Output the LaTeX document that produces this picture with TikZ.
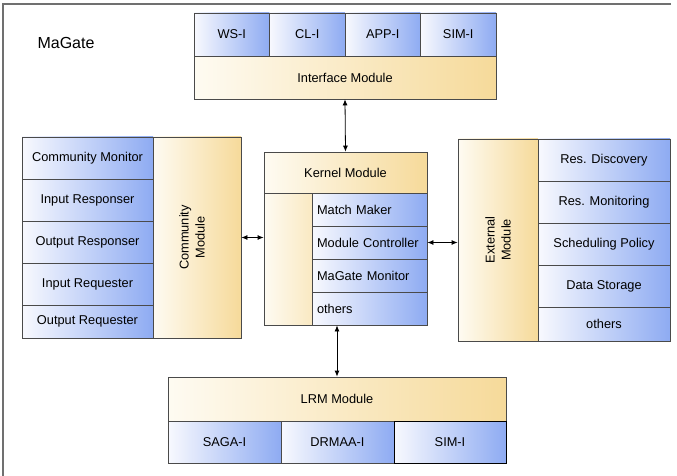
\documentclass[tikz,border=0pt]{standalone}
\usepackage{fontspec}
\setmainfont{Liberation Sans}
\usetikzlibrary{arrows.meta}
\definecolor{edgegray}{HTML}{4A4A4A}
\definecolor{framegray}{HTML}{707070}
\definecolor{subblue}{HTML}{8EABF2}
\definecolor{subwhite}{HTML}{F8F9FE}
\definecolor{modsand}{HTML}{F6DA9A}
\definecolor{modcream}{HTML}{FEFBF2}
\begin{document}
\begin{tikzpicture}[x=1pt,y=-1pt,line width=.8,
    sub/.style={draw=edgegray,left color=subwhite,middle color=subblue!38!subwhite,right color=subblue,inner sep=0pt,font=\fontsize{12.8}{15}\selectfont},
    mod/.style={draw=edgegray,left color=modcream,middle color=modsand!45!modcream,right color=modsand,inner sep=0pt,font=\fontsize{12.8}{15}\selectfont},
    modtext/.style={rotate=90,align=center,inner sep=0pt,font=\fontsize{12.8}{16}\selectfont},
    ktext/.style={text width=105pt,align=left},
    link/.style={{Latex[length=6pt,width=5pt]}-{Latex[length=6pt,width=5pt]},line width=.8}]
    \useasboundingbox (0,0) rectangle (677,476);
    \draw[framegray,line width=1.6] (671,4) -- (3,4) -- (3,476);
    \node[font=\fontsize{16}{19}\selectfont] (magate) at (66,43) {MaGate};
    % interface module
    \node[mod,minimum width=302pt,minimum height=43pt] (iface) at (345,77.5) {Interface Module};
    \node[sub,minimum width=75.5pt,minimum height=43pt] (wsi) at (231.75,34.5) {WS-I};
    \node[sub,minimum width=75.5pt,minimum height=43pt] (cli) at (307.25,34.5) {CL-I};
    \node[sub,minimum width=75.5pt,minimum height=43pt] (appi) at (382.75,34.5) {APP-I};
    \node[sub,minimum width=75.5pt,minimum height=43pt] (simi) at (458.25,34.5) {SIM-I};
    % kernel module
    \node[mod,minimum width=163pt,minimum height=41pt] (khead) at (345.5,172.5) {Kernel Module};
    \node[mod,middle color=modsand!25!modcream,right color=modsand!55!modcream,minimum width=48pt,minimum height=132pt] (kside) at (288,259) {};
    \node[sub,ktext,minimum width=115pt,minimum height=33pt] (kmatch) at (369.5,209.5) {Match Maker};
    \node[sub,ktext,minimum width=115pt,minimum height=33pt] (kctrl) at (369.5,242.5) {Module Controller};
    \node[sub,ktext,minimum width=115pt,minimum height=33pt] (kmon) at (369.5,275.5) {MaGate Monitor};
    \node[sub,ktext,minimum width=115pt,minimum height=33pt] (kother) at (369.5,308.5) {others};
    % community module
    \node[mod,minimum width=88pt,minimum height=201pt] (cmod) at (197,237.5) {};
    \node[modtext] (cmodtext) at (192,237.5) {Community\\Module};
    \node[sub,minimum width=131pt,minimum height=42pt] (cmon) at (87.5,158) {Community Monitor};
    \node[sub,minimum width=131pt,minimum height=42pt] (cinresp) at (87.5,200) {Input Responser};
    \node[sub,minimum width=131pt,minimum height=42pt] (coutresp) at (87.5,242) {Output Responser};
    \node[sub,minimum width=131pt,minimum height=42pt] (cinreq) at (87.5,284) {Input Requester};
    \node[sub,minimum width=131pt,minimum height=33pt] (coutreq) at (87.5,321.5) {Output Requester};
    % external module
    \node[mod,minimum width=80pt,minimum height=202pt] (emod) at (498,240) {};
    \node[modtext] (emodtext) at (498,240) {External\\Module};
    \node[sub,minimum width=132pt,minimum height=42pt] (ediscov) at (604,160) {Res. Discovery};
    \node[sub,minimum width=132pt,minimum height=42pt] (emonit) at (604,202) {Res. Monitoring};
    \node[sub,minimum width=132pt,minimum height=42pt] (esched) at (604,244) {Scheduling Policy};
    \node[sub,minimum width=132pt,minimum height=42pt] (estore) at (604,286) {Data Storage};
    \node[sub,minimum width=132pt,minimum height=34pt] (eother) at (604,324) {others};
    % lrm module
    \node[mod,minimum width=338pt,minimum height=44pt] (lrm) at (337,399) {LRM Module};
    \node[sub,minimum width=113pt,minimum height=42pt] (saga) at (224.5,442) {SAGA-I};
    \node[sub,minimum width=113pt,minimum height=42pt] (drmaa) at (337.5,442) {DRMAA-I};
    \node[sub,draw=black,line width=1,minimum width=112pt,minimum height=42pt] (lsim) at (450,442) {SIM-I};
    % links to the kernel
    \draw[link] (iface.south) -- (khead.north);
    \draw[link] (cmod.east) -- (cmod.east -| kside.west);
    \draw[link] (kctrl.east) -- (kctrl.east -| emod.west);
    \draw[link] (kother.south -| lrm.north) -- (lrm.north);
\end{tikzpicture}
\end{document}
